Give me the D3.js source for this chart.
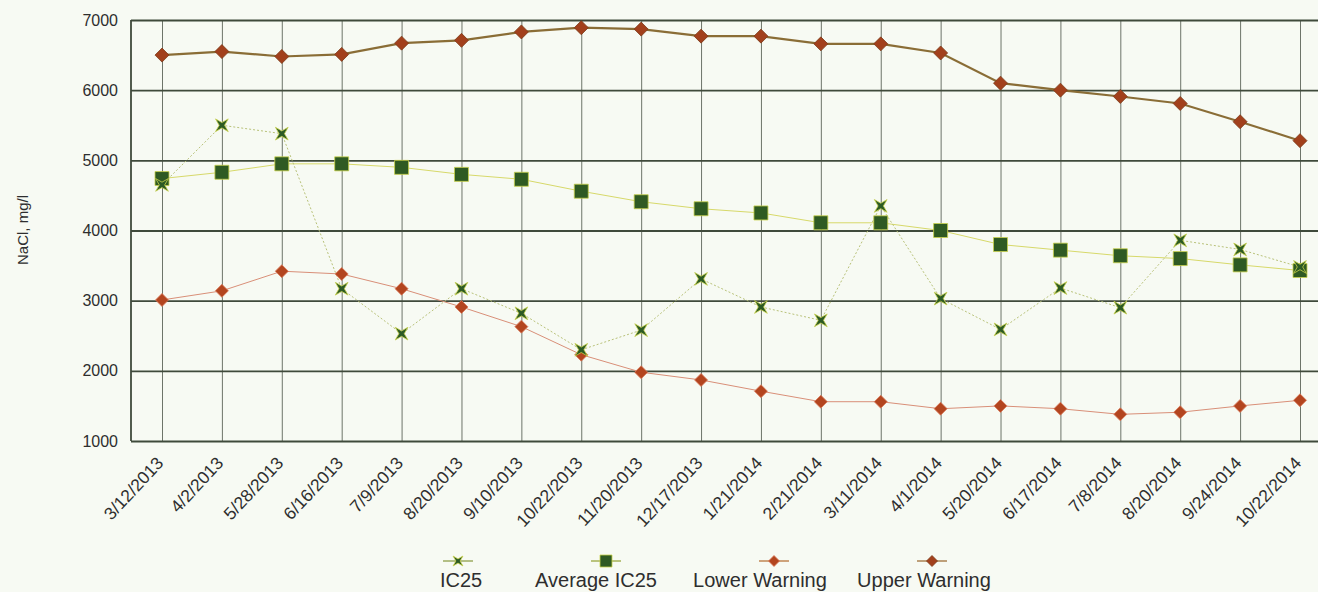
<!DOCTYPE html>
<html>
<head>
<meta charset="utf-8">
<script src="https://cdn.jsdelivr.net/npm/d3@7/dist/d3.min.js"></script>
<style>
  html, body { margin: 0; padding: 0; background: #f7faf3; }
  svg { display: block; font-family: Arial, "Liberation Sans", sans-serif; }
</style>
</head>
<body>
<svg id="chart" width="1318" height="592"></svg>
<script>
// Sample dates (x categories)
const dates = ["3/12/2013","4/2/2013","5/28/2013","6/16/2013","7/9/2013","8/20/2013","9/10/2013",
  "10/22/2013","11/20/2013","12/17/2013","1/21/2014","2/21/2014","3/11/2014","4/1/2014",
  "5/20/2014","6/17/2014","7/8/2014","8/20/2014","9/24/2014","10/22/2014"];

// NaCl, mg/l
const ic25 = [4650,5500,5380,3170,2530,3170,2820,2300,2580,3310,2910,2720,4350,3030,2590,3180,2900,3860,3730,3480];
const avgIc25 = [4740,4830,4950,4950,4900,4800,4730,4560,4410,4310,4250,4110,4110,4000,3800,3720,3640,3600,3510,3430];
const lowerWarning = [3010,3140,3420,3380,3170,2910,2630,2230,1980,1870,1710,1560,1560,1460,1500,1460,1380,1410,1500,1580];
const upperWarning = [6500,6550,6480,6510,6670,6710,6830,6890,6870,6770,6770,6660,6660,6530,6100,6000,5910,5810,5550,5280];

const yTicks = [1000,2000,3000,4000,5000,6000,7000];
const legendLabels = ["IC25","Average IC25","Lower Warning","Upper Warning"];

const svg = d3.select("#chart");
const W = 1318, H = 592;
const plot = { left: 131, top: 20, bottom: 441, right: 1330 };

const x = d3.scalePoint().domain(dates).range([162, 1300]);
const y = d3.scaleLinear().domain([1000, 7000]).range([plot.bottom, plot.top]);

svg.append("rect").attr("width", W).attr("height", H).attr("fill", "#f7faf3");

// Vertical grid lines through each date
svg.append("g")
  .attr("transform", `translate(0,${plot.bottom})`)
  .call(d3.axisBottom(x).tickSize(-(plot.bottom - plot.top)).tickFormat(""))
  .call(g => g.select(".domain").remove())
  .call(g => g.selectAll("line").attr("stroke", "#6d7469").attr("stroke-width", 1));

// Horizontal grid lines
svg.append("g")
  .attr("transform", `translate(${plot.left},0)`)
  .call(d3.axisLeft(y).tickValues(yTicks).tickSize(-(plot.right - plot.left)).tickFormat(""))
  .call(g => g.select(".domain").remove())
  .call(g => g.selectAll("line").attr("stroke", "#3f4a3b").attr("stroke-width", 1.8));

// Left axis line
svg.append("line")
  .attr("x1", plot.left).attr("x2", plot.left)
  .attr("y1", plot.top).attr("y2", plot.bottom)
  .attr("stroke", "#3f4a3b").attr("stroke-width", 1.8);

// Y tick labels
svg.append("g")
  .attr("transform", `translate(${plot.left},0)`)
  .call(d3.axisLeft(y).tickValues(yTicks).tickSize(0).tickPadding(13).tickFormat(d3.format("d")))
  .call(g => g.select(".domain").remove())
  .call(g => g.selectAll("text").attr("font-size", 16).attr("fill", "#2e2e2e")
    .attr("font-family", "Arial, 'Liberation Sans', sans-serif"));

// X tick labels, rotated
svg.append("g")
  .attr("transform", `translate(0,${plot.bottom})`)
  .call(d3.axisBottom(x).tickSize(0).tickPadding(0))
  .call(g => g.select(".domain").remove())
  .call(g => g.selectAll("text")
    .attr("font-size", 17.5).attr("fill", "#2e2e2e")
    .attr("font-family", "Arial, 'Liberation Sans', sans-serif")
    .attr("text-anchor", "end")
    .attr("dy", 0)
    .attr("transform", "translate(2,23) rotate(-47)"));

// Y axis title
svg.append("text")
  .attr("transform", `translate(28,230) rotate(-90)`)
  .attr("text-anchor", "middle")
  .attr("font-size", 15).attr("fill", "#2e2e2e")
  .text("NaCl, mg/l");

// Marker shapes
const starPath = (s) => {
  // four-pointed star with points on the diagonals
  const r = s, q = s * 0.3;
  const pts = [];
  for (let i = 0; i < 8; i++) {
    const a = Math.PI / 4 + i * Math.PI / 4;
    const rr = i % 2 === 0 ? r : q;
    pts.push([rr * Math.cos(a), rr * Math.sin(a)]);
  }
  return "M" + pts.map(p => p.join(",")).join("L") + "Z";
};
const squarePath = (s) => `M${-s},${-s}H${s}V${s}H${-s}Z`;
const diamondPath = (s) => `M0,${-s}L${s},0L0,${s}L${-s},0Z`;

const series = [
  { name: legendLabels[3], values: upperWarning, line: "#8a6d36", lw: 2.2, dash: null,
    marker: diamondPath(7), fill: "#a2401c", stroke: "#7c3a18" },
  { name: legendLabels[2], values: lowerWarning, line: "#d98f78", lw: 1, dash: null,
    marker: diamondPath(6.5), fill: "#b3451f", stroke: "#d97a5a" },
  { name: legendLabels[1], values: avgIc25, line: "#d7d96a", lw: 1, dash: null,
    marker: squarePath(7), fill: "#2f5a23", stroke: "#c9d24a" },
  { name: legendLabels[0], values: ic25, line: "#b9c27a", lw: 1, dash: "2,2",
    marker: starPath(9), fill: "#2c5a24", stroke: "#c9d24a" }
];

const lineGen = d3.line().x((d, i) => x(dates[i])).y(d => y(d));

series.forEach(s => {
  svg.append("path")
    .datum(s.values)
    .attr("d", lineGen)
    .attr("fill", "none")
    .attr("stroke", s.line)
    .attr("stroke-width", s.lw)
    .attr("stroke-dasharray", s.dash);
});

series.forEach(s => {
  svg.append("g").selectAll("path")
    .data(s.values)
    .join("path")
    .attr("d", s.marker)
    .attr("transform", (d, i) => `translate(${x(dates[i])},${y(d)})`)
    .attr("fill", s.fill)
    .attr("stroke", s.stroke)
    .attr("stroke-width", 0.8);
});

// Legend
const legendItems = [
  { label: legendLabels[0], cx: 458, tx: 461, s: series[3], mk: starPath(7), lc: "#8fa04a" },
  { label: legendLabels[1], cx: 606, tx: 596, s: series[2], mk: squarePath(6), lc: "#9aa83e" },
  { label: legendLabels[2], cx: 774, tx: 760, s: series[1], mk: diamondPath(5.5), lc: "#b8743a" },
  { label: legendLabels[3], cx: 932, tx: 924, s: series[0], mk: diamondPath(5.5), lc: "#a07038" }
];
const lg = svg.append("g");
legendItems.forEach(it => {
  lg.append("line")
    .attr("x1", it.cx - 15).attr("x2", it.cx + 15)
    .attr("y1", 561).attr("y2", 561)
    .attr("stroke", it.lc)
    .attr("stroke-width", 1.3);
  lg.append("path")
    .attr("d", it.mk)
    .attr("transform", `translate(${it.cx},561)`)
    .attr("fill", it.s.fill).attr("stroke", it.s.stroke).attr("stroke-width", 0.8);
  lg.append("text")
    .attr("x", it.tx).attr("y", 587)
    .attr("text-anchor", "middle")
    .attr("font-size", 20).attr("fill", "#2e2e2e")
    .text(it.label);
});
</script>
</body>
</html>
